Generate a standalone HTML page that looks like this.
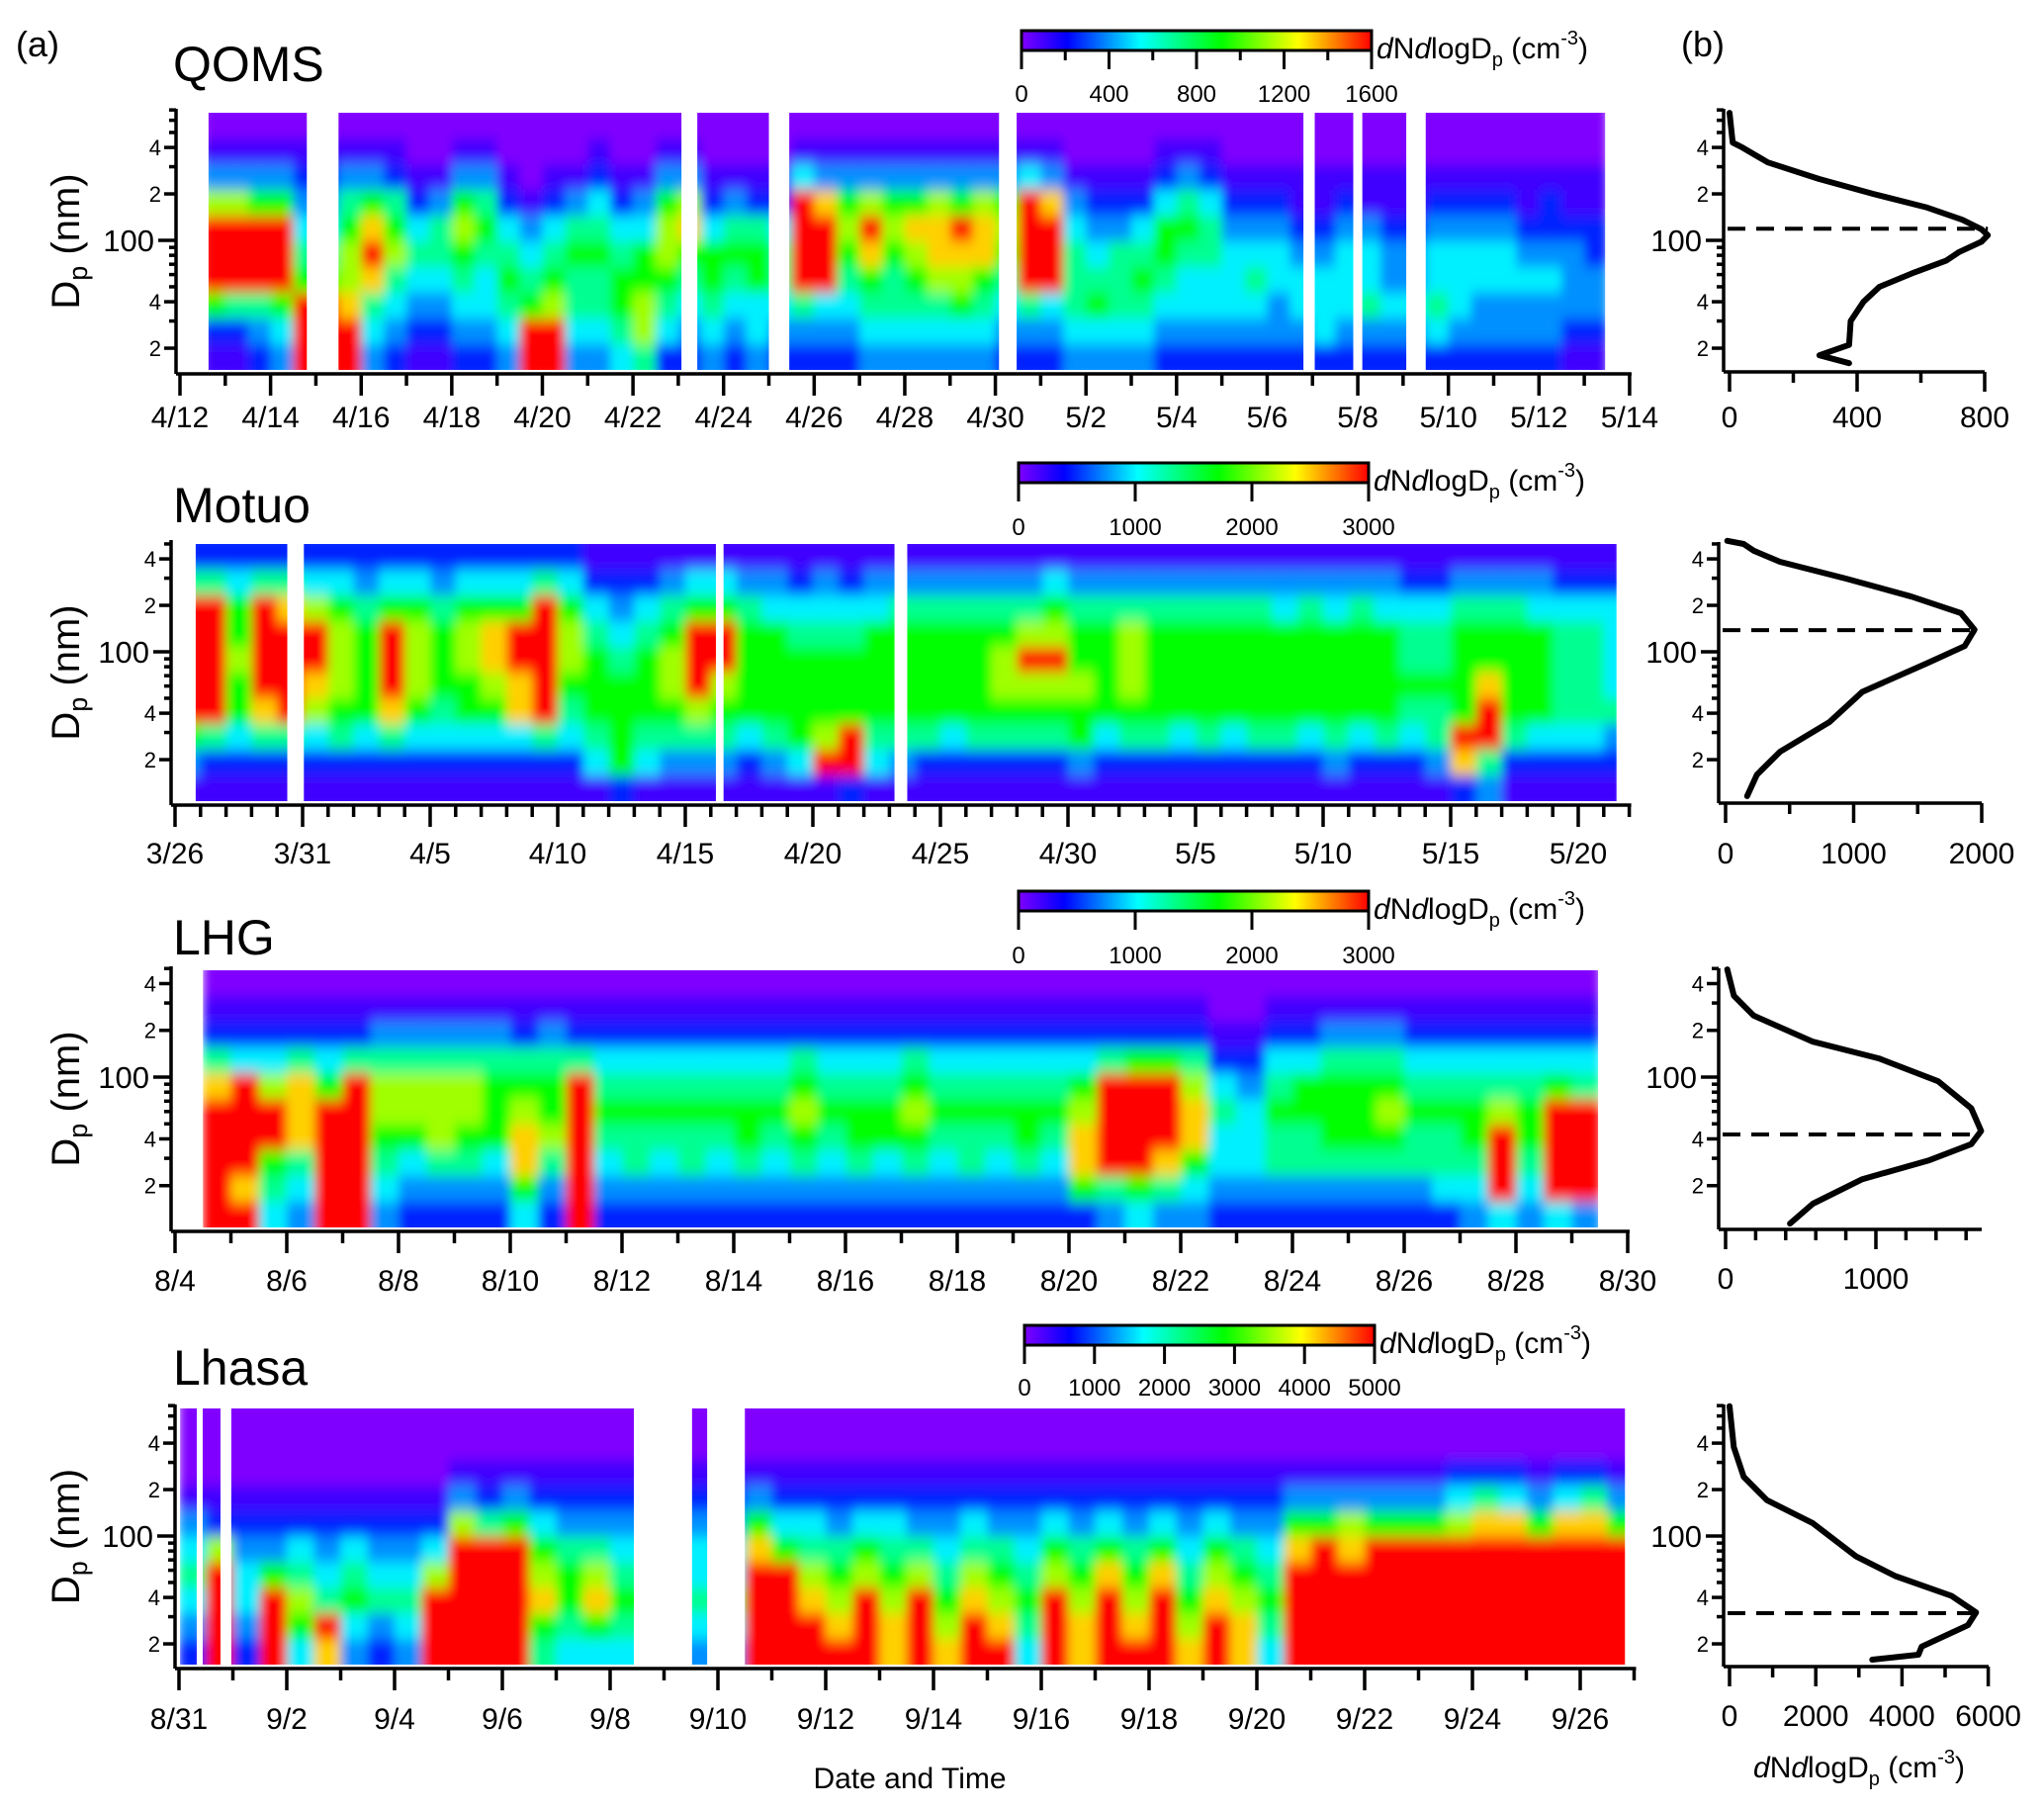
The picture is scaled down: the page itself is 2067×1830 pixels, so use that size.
<!DOCTYPE html>
<html><head><meta charset="utf-8"><style>
html,body{margin:0;padding:0;background:#fff;}
svg{display:block;font-family:"Liberation Sans",Arial,sans-serif;}
</style></head><body>
<svg id="fig" width="2067" height="1830" viewBox="0 0 2067 1830" xmlns="http://www.w3.org/2000/svg">
<defs>
<linearGradient id="jet" x1="0" x2="1" y1="0" y2="0">
<stop offset="0" stop-color="#8000ff"/><stop offset="0.13" stop-color="#0000ff"/><stop offset="0.34" stop-color="#00ffff"/><stop offset="0.57" stop-color="#00ff00"/><stop offset="0.79" stop-color="#ffff00"/><stop offset="1" stop-color="#ff0000"/>
</linearGradient>
<filter id="soft" x="-2%" y="-5%" width="104%" height="110%"><feGaussianBlur stdDeviation="5 7"/></filter>
</defs>
<text x="16" y="57" font-size="36">(a)</text>
<text x="1700" y="57" font-size="36">(b)</text>
<text x="920" y="1808" font-size="30" text-anchor="middle">Date and Time</text>
<text x="1880" y="1797" font-size="30" text-anchor="middle"><tspan font-style="italic">d</tspan>N<tspan font-style="italic">d</tspan>logD<tspan font-size="20" dy="8">p</tspan><tspan dy="-8"> (cm</tspan><tspan font-size="20" dy="-14">-3</tspan><tspan dy="14">)</tspan></text>
<g id="root"></g>
</svg>
<script>
// ---------- data ----------
var qomsCols = ["0137999621","0137999521","0136999532","0136999643","0123456999","0123456999","0135677899","0136898543","0125675432","0012454321","0013554321","0136765432","0135654432","0012456543","0001345699","0012456799","0013565543","0124565543","0012456654","0013466775","0136776542","0137865432","0012466543","0013565432","0012566443","0012455432","0149999532","0138999432","0136765432","0137986543","0136765543","0136876543","0137887543","0136987643","0137886543","0136765432","0149999532","0138999432","0013455543","0012345643","0012355543","0012456543","0124665432","0135654432","0124554432","0012344432","0012345432","0012344332","0011234432","0011234442","0012344432","0011344532","0011233432","0011233432","0012344542","0012344432","0012344332","0012344332","0011234332","0012234332","0011233321","0011223321"];
var qomsGaps = [[2.8,3.5],[11.07,11.42],[13.0,13.45],[18.08,18.47],[24.8,25.05],[25.9,26.1],[27.07,27.5]];
var qomsRange = [0.63,31.46];
var qomsTicks = ["4/12","4/14","4/16","4/18","4/20","4/22","4/24","4/26","4/28","4/30","5/2","5/4","5/6","5/8","5/10","5/12","5/14"];
var qomsCbar = ["0","400","800","1200","1600"];

var motuoCols = ["2599999631","2599999521","2466766421","2599998521","2589999521","2479987421","2467776521","2356666421","2469998521","2467776421","2356665421","2467766421","2468876421","2469988421","2599999521","2467765421","1245666541","1234566662","1245666541","1356776531","1469997531","1469976531","1356666421","1346666531","1245666641","1345666791","1245666992","1346666541","1356666531","1356666521","1356666421","1356666521","1356776521","1357976521","1467976521","1356676631","1356666421","1357776521","1356666521","1356666421","1356666521","1356666421","1356666521","1346666521","1356666421","1346666531","1356666421","1346666521","1245565421","1245565531","1356666982","1356689953","1356666521","1346666421","1245555421","1245555421","1244445321"];
var motuoGaps = [[4.4,5.05],[21.2,21.5],[28.2,28.7]];
var motuoRange = [0.81,56.5];
var motuoTicks = ["3/26","3/31","4/5","4/10","4/15","4/20","4/25","4/30","5/5","5/10","5/15","5/20"];
var motuoCbar = ["0","1000","2000","3000"];

var lhgCols = ["0125899999","0124999989","0124799654","0125888543","0124699999","0125999999","0135776543","0135776432","0135777532","0135776532","0135666432","0125678864","0135667532","0125999999","0124565432","0124565532","0124565432","0124565532","0124565432","0124566532","0124565432","0125676532","0124565432","0124566532","0124566432","0125676532","0124565432","0124565532","0124565432","0124566532","0124565432","0124678862","0125999953","0126999964","0126999853","0125788643","0012454432","0012344432","0124565532","0124665532","0135666532","0135666532","0135676532","0124565532","0124565542","0124566543","0124579994","0124566543","0124699994","0124599993"];
var lhgGaps = [];
var lhgRange = [0.5,25.47];
var lhgTicks = ["8/4","8/6","8/8","8/10","8/12","8/14","8/16","8/18","8/20","8/22","8/24","8/26","8/28","8/30"];
var lhgCbar = ["0","1000","2000","3000"];

var lhasaCols = ["0001345432","0001279999","0001234432","0001236999","0001245764","0001234598","0001245643","0001234532","0001234543","0001247999","0013799999","0012599999","0013699999","0012467865","0012356654","0012357864","0012345654","0012345654","0012344543","0012344543","0012344543","0013689999","0012469999","0012457899","0012356789","0012467999","0012456788","0012357999","0012345678","0012457899","0012356789","0012345654","0012467999","0012356788","0012468999","0012356789","0012468999","0012345678","0012467899","0012356788","0012345654","0013689999","0013699999","0013789999","0013699999","0013699999","0013699999","0024799999","0025899999","0024899999","0013699999","0024899999","0025899999","0013699999"];
var lhasaGaps = [[0.33,0.44],[0.77,0.97],[8.44,9.52],[9.8,10.5]];
var lhasaRange = [0.02,26.83];
var lhasaTicks = ["8/31","9/2","9/4","9/6","9/8","9/10","9/12","9/14","9/16","9/18","9/20","9/22","9/24","9/26"];
var lhasaCbar = ["0","1000","2000","3000","4000","5000"];

// profiles (diameter nm, dN/dlogDp)
var qomsProfD = [670,430,400,320,250,200,163,136,118,108,98,84,74,62,50,40,30,21,18,16];
var qomsProfV = [0,10,40,120,280,450,620,730,790,810,790,720,680,580,470,420,380,375,282,375];
var qomsModeD = 119;
var motuoProfD = [524,500,452,383,298,228,178,139,109,85,55,35,22.5,16,11.6];
var motuoProfV = [13,141,219,425,940,1452,1838,1944,1867,1583,1068,811,425,245,168];
var motuoModeD = 138;
var lhgProfD = [494,334,249,169,132,94,63,45,37,29,22,15.3,11.4];
var lhgProfV = [11,55,186,581,1020,1414,1634,1700,1634,1349,910,581,428];
var lhgModeD = 42.7;
var lhasaProfD = [694,377,242,171,121,74,55,41,32,26.4,19.2,17,15.8];
var lhasaProfV = [0,99,328,864,1934,2929,3846,5145,5718,5527,4456,4380,3310];
var lhasaModeD = 31.6;

// ---------- layout ----------
var panels = [
 {id:"qoms",title:"QOMS",titleY:82,cols:qomsCols,gaps:qomsGaps,range:qomsRange,ticks:qomsTicks,tickStep:2,nDays:32,colStep:0.5,colStart:0.5,
  axL:178,top:114,bot:374,axB:378,x0:182,pxDay:45.81,yRef:243,dec:156,labY:432,
  cb:{x:1033,y:31,w:354,h:20,labels:qomsCbar,minor:true,labY:103},
  prof:{D:qomsProfD,V:qomsProfV,mode:qomsModeD,axL:1743,x0:1749,px:0.3225,ticks:[0,400,800],minor:200,xmax:800,axR:2007,labY:432,top:110}},
 {id:"motuo",title:"Motuo",titleY:528,cols:motuoCols,gaps:motuoGaps,range:motuoRange,ticks:motuoTicks,tickStep:5,nDays:57,colStep:1,colStart:0,
  axL:173,top:550,bot:810,axB:814,x0:177,pxDay:25.8,yRef:659,dec:156,labY:873,
  cb:{x:1030,y:468,w:354,h:20,labels:motuoCbar,minor:false,labY:541},
  prof:{D:motuoProfD,V:motuoProfV,mode:motuoModeD,axL:1738,x0:1745,px:0.1295,ticks:[0,1000,2000],minor:500,xmax:2000,axR:2004,labY:873,top:548}},
 {id:"lhg",title:"LHG",titleY:965,cols:lhgCols,gaps:lhgGaps,range:lhgRange,ticks:lhgTicks,tickStep:2,nDays:26,colStep:0.5,colStart:0.5,
  axL:173,top:981,bot:1241,axB:1245,x0:177,pxDay:56.5,yRef:1089,dec:157,labY:1305,
  cb:{x:1030,y:901,w:354,h:20,labels:lhgCbar,minor:false,labY:974},
  prof:{D:lhgProfD,V:lhgProfV,mode:lhgModeD,axL:1738,x0:1745,px:0.152,ticks:[0,1000],minor:200,xmax:1600,axR:2004,labY:1303,top:979}},
 {id:"lhasa",title:"Lhasa",titleY:1400,cols:lhasaCols,gaps:lhasaGaps,range:lhasaRange,ticks:lhasaTicks,tickStep:2,nDays:27,colStep:0.5,colStart:0,
  axL:177,top:1424,bot:1683,axB:1687,x0:181,pxDay:54.5,yRef:1553,dec:156,labY:1748,
  cb:{x:1036,y:1340,w:354,h:20,labels:lhasaCbar,minor:false,labY:1411},
  prof:{D:lhasaProfD,V:lhasaProfV,mode:lhasaModeD,axL:1743,x0:1749,px:0.0436,ticks:[0,2000,4000,6000],minor:1000,xmax:6000,axR:2011,labY:1745,top:1420}}
];
var cmap = ["#8000ff","#4000ff","#0020ff","#0090ff","#00f0ff","#00ff90","#00ff00","#a0ff00","#ffd000","#ff0000"];
var NS = "http://www.w3.org/2000/svg";
var root = document.getElementById('root');
var defs = document.querySelector('defs');
function mk(tag, attrs, parent){ var e=document.createElementNS(NS,tag); for(var k in attrs) e.setAttribute(k,attrs[k]); (parent||root).appendChild(e); return e; }

panels.forEach(function(p){
  var g = mk('g',{});
  
  
  var xs = function(d){ return p.x0 + d*p.pxDay; };
  var ys = function(D){ return p.yRef - Math.log10(D/100)*p.dec; };
  var t = mk('text',{x:175,y:p.titleY,'font-size':50},g); t.textContent=p.title;
  
  
  // heatmap
  var cp = mk('clipPath',{id:'clip-'+p.id},defs);
  mk('rect',{x:xs(p.range[0]),y:p.top,width:xs(p.range[1])-xs(p.range[0]),height:p.bot-p.top},cp);
  var hmOuter = mk('g',{'clip-path':'url(#clip-'+p.id+')'},g);
  
  
  var hm = mk('g',{filter:'url(#soft)'},hmOuter);
  var nR = 10, rh = (p.bot-p.top)/nR;
  p.cols.forEach(function(col, i){
    var d0 = Math.max(p.colStart + i*p.colStep, p.range[0]-0.3);
    var d1 = Math.min(p.colStart + (i+1)*p.colStep, p.range[1]+0.3);
    if (d1<=d0) return;
    for (var r=0;r<nR;r++){
      var y0 = p.top+r*rh, h = rh+0.6;
      if (r===0){ y0 -= 12; h += 12; }
      if (r===nR-1){ h += 12; }
      var c = mk('rect',{x:xs(d0),y:y0,width:xs(d1)-xs(d0)+0.6,height:h,fill:cmap[+col[r]]},hm);
      
      
    }
  });
  p.gaps.forEach(function(gp){
    var w = mk('rect',{x:xs(gp[0]),y:p.top-1,width:xs(gp[1])-xs(gp[0]),height:p.bot-p.top+2,fill:'#fff'},g);
    
    
  });
  // axes
  var ax = mk('g',{stroke:'#000','stroke-width':3.5,fill:'none'},g);
  
  
  mk('line',{x1:p.axL,y1:p.top-4,x2:p.axL,y2:p.axB},ax);
  mk('line',{x1:p.axL,y1:p.axB,x2:xs(p.nDays)+2,y2:p.axB},ax);
  for (var d=0; d<=p.nDays; d++){
    var major = d%p.tickStep===0;
    mk('line',{x1:xs(d),y1:p.axB,x2:xs(d),y2:p.axB+(major?22:12)},ax);
  }
  p.ticks.forEach(function(lab,k){
    var tl = mk('text',{x:xs(k*p.tickStep),y:p.labY,'font-size':30,'text-anchor':'middle'},g); tl.textContent=lab;
    
    
  });
  function yTicks(axL, grp){
    var Dmax = 100*Math.pow(10,(p.yRef-p.top+4)/p.dec), Dmin = 100*Math.pow(10,(p.yRef-p.bot)/p.dec);
    [10,100].forEach(function(dec){
      for (var m=1;m<=9;m++){
        var D = dec*m; if (D<Dmin||D>Dmax) continue;
        var len = (D===100)?18:((m===2||m===4)?12:7);
        mk('line',{x1:axL-len,y1:ys(D),x2:axL,y2:ys(D)},grp);
      }
    });
    [[20,'2',22],[40,'4',22],[100,'100',31],[200,'2',22],[400,'4',22]].forEach(function(o){
      if (o[0]<Dmin||o[0]>Dmax) return;
      var yl = mk('text',{x:axL-(o[0]===100?22:15),y:ys(o[0])+(o[0]===100?11:8),'font-size':o[2],'text-anchor':'end',fill:'#000',stroke:'none'},g);
      yl.textContent=o[1];
      
      
    });
  }
  yTicks(p.axL, ax);
  var yt = mk('text',{x:0,y:0,'font-size':40,'text-anchor':'middle',transform:'translate(80,'+((p.top+p.bot)/2)+') rotate(-90)'},g);
  yt.innerHTML = 'D<tspan font-size="27" dy="8">p</tspan><tspan dy="-8"> (nm)</tspan>';
  
  
  // colorbar
  var cb = p.cb;
  var cbg = mk('g',{},g);
  
  
  mk('rect',{x:cb.x,y:cb.y,width:cb.w,height:cb.h,fill:'url(#jet)',stroke:'#000','stroke-width':3},cbg);
  var n = cb.labels.length-1;
  for (var k=0;k<=n*(cb.minor?2:1);k++){
    var xx = cb.x + cb.w*k/(n*(cb.minor?2:1));
    var maj = !cb.minor || k%2===0;
    mk('line',{x1:xx,y1:cb.y+cb.h,x2:xx,y2:cb.y+cb.h+(maj?19:10),stroke:'#000','stroke-width':3},cbg);
  }
  cb.labels.forEach(function(l,k){
    var ct = mk('text',{x:cb.x+cb.w*k/n,y:cb.labY,'font-size':24,'text-anchor':'middle'},cbg); ct.textContent=l;
    
    
  });
  var cl = mk('text',{x:cb.x+cb.w+5,y:cb.y+cb.h+8,'font-size':30},cbg);
  cl.innerHTML = '<tspan font-style="italic">d</tspan>N<tspan font-style="italic">d</tspan>logD<tspan font-size="20" dy="8">p</tspan><tspan dy="-8"> (cm</tspan><tspan font-size="20" dy="-14">-3</tspan><tspan dy="14">)</tspan>';
  
  
  // profile panel
  var pr = p.prof;
  var pg = mk('g',{},g);
  
  
  var px = function(v){ return pr.x0 + v*pr.px; };
  var pax = mk('g',{stroke:'#000','stroke-width':3.5,fill:'none'},pg);
  mk('line',{x1:pr.axL,y1:pr.top,x2:pr.axL,y2:p.axB-2},pax);
  mk('line',{x1:pr.axL,y1:p.axB-2,x2:pr.axR,y2:p.axB-2},pax);
  for (var v=0; v<=pr.xmax+0.1; v+=pr.minor){
    var isMaj = pr.ticks.indexOf(v)>=0;
    mk('line',{x1:px(v),y1:p.axB-2,x2:px(v),y2:p.axB-2+(isMaj?20:11)},pax);
  }
  pr.ticks.forEach(function(v){
    var pt = mk('text',{x:px(v),y:pr.labY,'font-size':30,'text-anchor':'middle'},pg); pt.textContent=String(v);
    
    
  });
  yTicks(pr.axL, pax);
  var dpath = pr.D.map(function(D,k){ return (k?'L':'M')+px(pr.V[k]).toFixed(1)+' '+ys(D).toFixed(1); }).join(' ');
  var curve = mk('path',{d:dpath,fill:'none',stroke:'#000','stroke-width':6,'stroke-linejoin':'round','stroke-linecap':'round'},pg);
  
  
  var maxV = Math.max.apply(null, pr.V);
  var dl = mk('line',{x1:pr.axL+4,y1:ys(pr.mode),x2:px(maxV),y2:ys(pr.mode),stroke:'#000','stroke-width':4,'stroke-dasharray':'18 11'},pg);
  
  
});
</script>
</body></html>
